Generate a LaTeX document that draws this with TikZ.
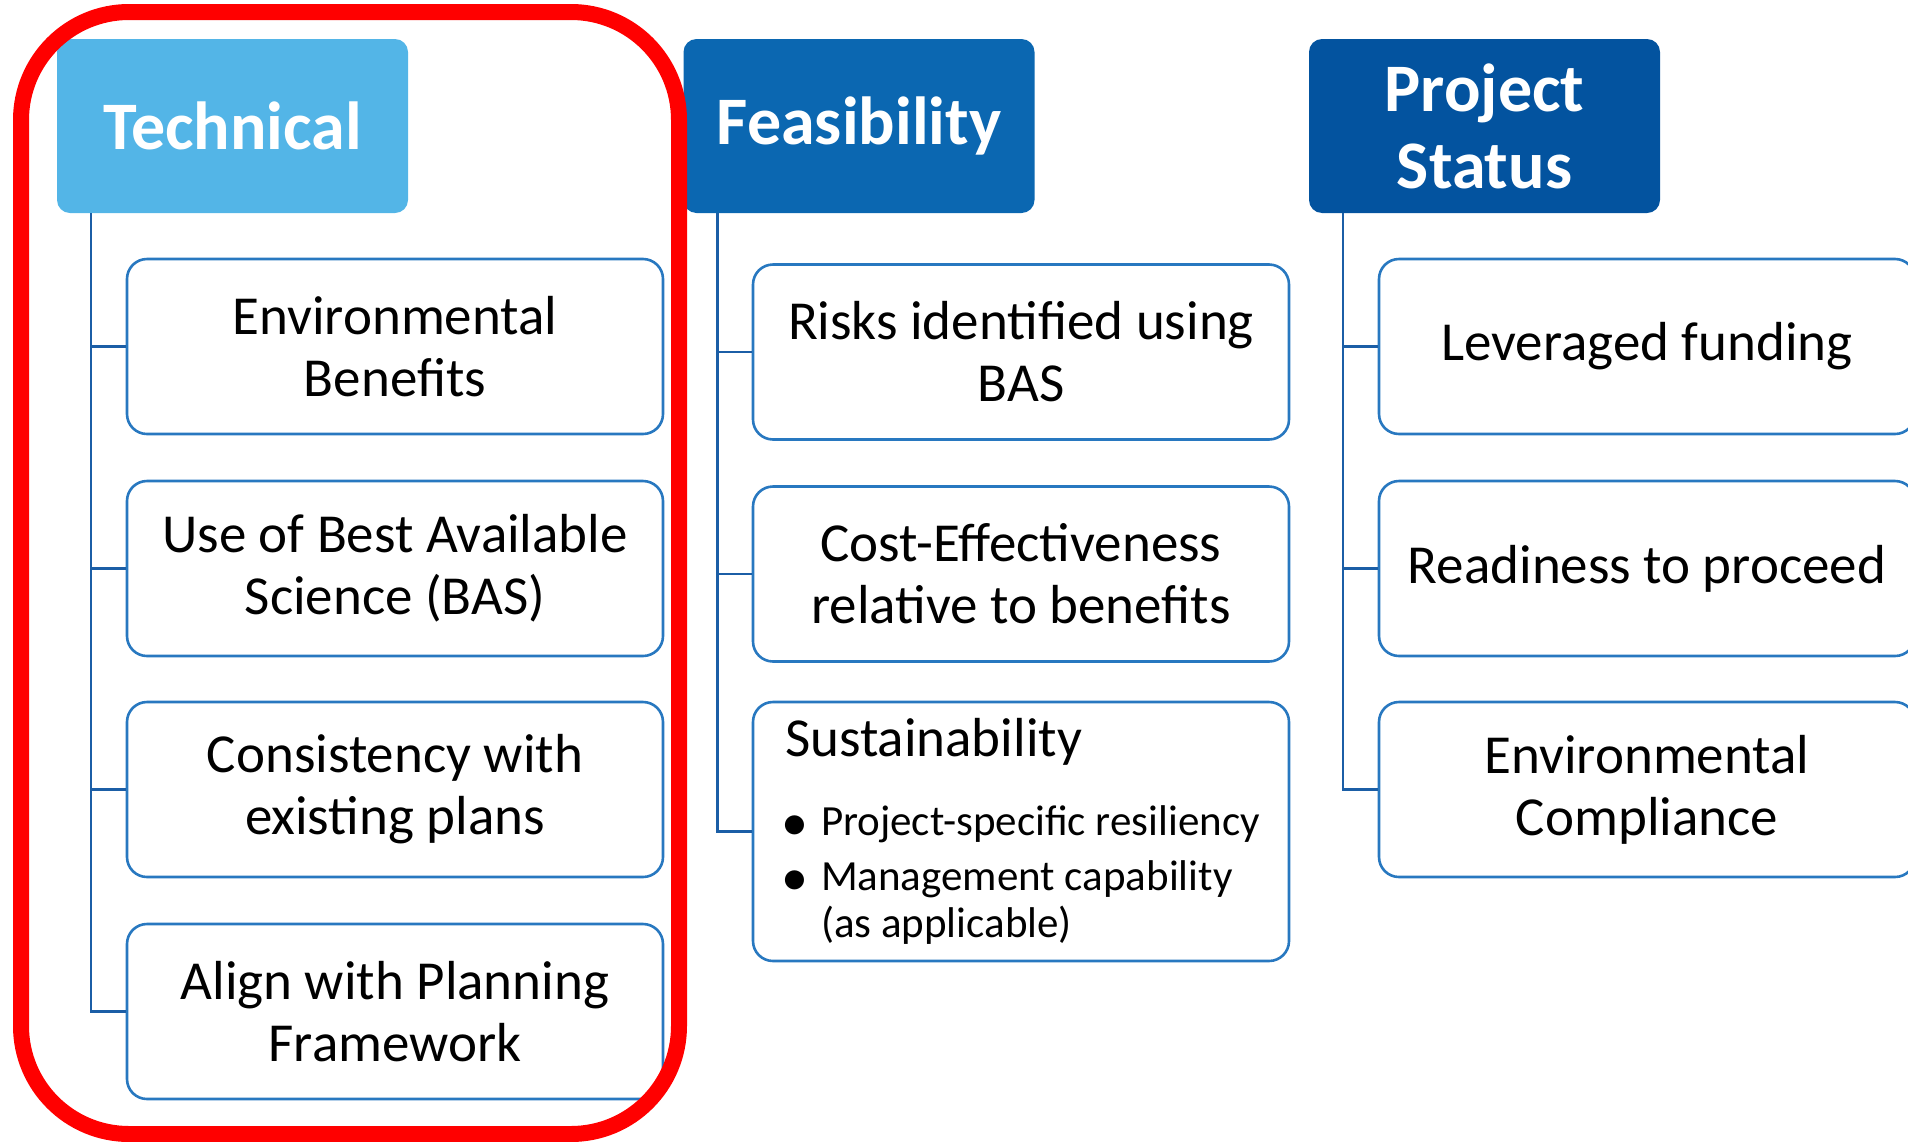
\documentclass[tikz,border=0pt]{standalone}
\usepackage{fontspec}
\setmainfont{Carlito}
\usetikzlibrary{positioning}

\definecolor{techblue}{RGB}{83,181,231}
\definecolor{feasblue}{RGB}{11,103,177}
\definecolor{statblue}{RGB}{3,83,159}
\definecolor{itemline}{RGB}{40,120,192}
\definecolor{treeline}{RGB}{27,94,166}
\newcommand{\sbullet}{\makebox[36pt][l]{\makebox[20pt][c]{\raisebox{-5pt}{\fontsize{54}{54}\selectfont\textbullet}}}}

\begin{document}
\begin{tikzpicture}[x=1pt, y=-1pt,
  head/.style={rounded corners=13pt, minimum width=351pt, minimum height=174pt,
    inner sep=0pt, text=white, align=center, font=\fontsize{68}{77}\selectfont\bfseries},
  item/.style={draw=itemline, line width=2.6pt, rounded corners=20pt, fill=white,
    minimum width=536pt, minimum height=175pt, inner sep=0pt, align=center,
    font=\fontsize{55}{62}\selectfont},
  branch/.style={draw=treeline, line width=2.6pt},
  highlight/.style={draw=red, line width=16pt, rounded corners=108pt}]
  \useasboundingbox (0,0) rectangle (1908,1141);

  \node[head, fill=techblue] (tech) at (232.5,126) {Technical};
  \node[head, fill=feasblue] (feas) at (859,126) {Feasibility};
  \node[head, fill=statblue] (stat) at (1484.5,126) {Project\\Status};

  \coordinate (techroot) at ([xshift=34pt]tech.south west);
  \coordinate (feasroot) at ([xshift=34pt]feas.south west);
  \coordinate (statroot) at ([xshift=34pt]stat.south west);

  \node[item] (tech1) at (395,346.5) {Environmental\\Benefits};
  \node[item] (tech2) at (395,568.5) {Use of Best Available\\Science (BAS)};
  \node[item] (tech3) at (395,789.5) {Consistency with\\existing plans};
  \node[item] (tech4) at (395,1011.5) {Align with Planning\\Framework};

  \node[item] (feas1) at (1021,352) {Risks identified using\\BAS};
  \node[item] (feas2) at (1021,574) {Cost-Effectiveness\\relative to benefits};
  \node[item, minimum height=259pt, text width=472pt, align=left] (feas3) at (1021,831.5)
    {\spaceskip=0pt \xspaceskip=0pt
     \vspace*{26.5pt}Sustainability\par\vspace{5pt}
     {\fontsize{43}{47}\selectfont\noindent
      \mbox{\sbullet Project-specific resiliency}\\[8pt]
      \mbox{\sbullet Management capability}\\[0.5pt]
      \mbox{\hspace*{36pt}(as applicable)}\par}};

  \node[item] (stat1) at (1647,346.5) {Leveraged funding};
  \node[item] (stat2) at (1647,568.5) {Readiness to proceed};
  \node[item] (stat3) at (1647,789.5) {Environmental\\Compliance};

  \draw[branch] (techroot) |- (tech1.west);
  \draw[branch] (techroot) |- (tech2.west);
  \draw[branch] (techroot) |- (tech3.west);
  \draw[branch] (techroot) |- (tech4.west);
  \draw[branch] (feasroot) |- (feas1.west);
  \draw[branch] (feasroot) |- (feas2.west);
  \draw[branch] (feasroot) |- (feas3.west);
  \draw[branch] (statroot) |- (stat1.west);
  \draw[branch] (statroot) |- (stat2.west);
  \draw[branch] (statroot) |- (stat3.west);

  \draw[highlight] (21,12) rectangle (679,1134);
\end{tikzpicture}
\end{document}
